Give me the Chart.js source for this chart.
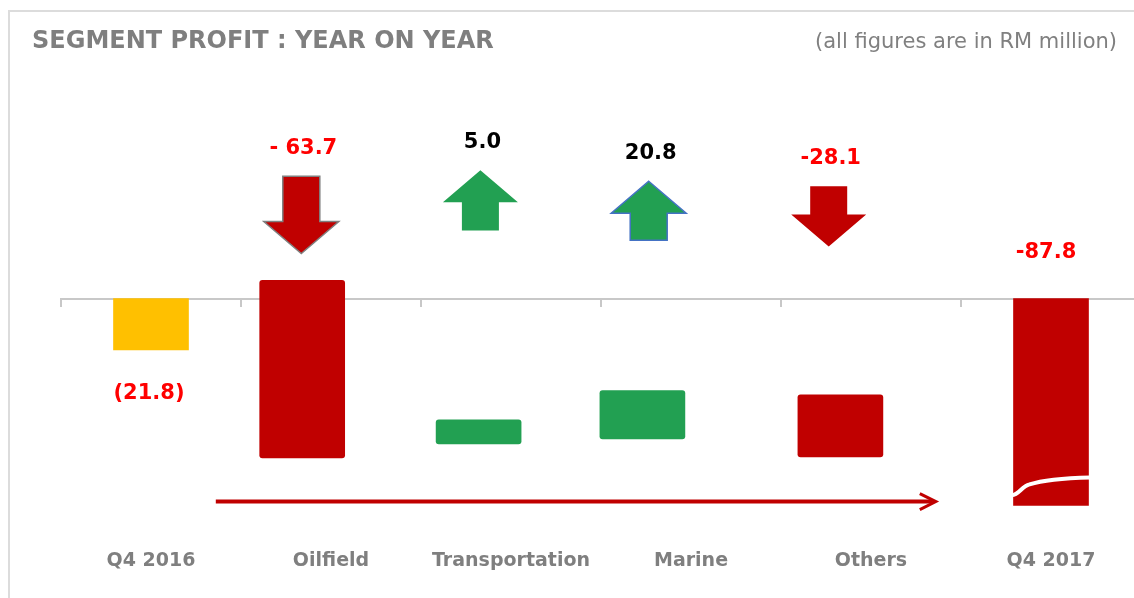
<!DOCTYPE html>
<html>
<head>
<meta charset="utf-8">
<script src="https://cdn.jsdelivr.net/npm/chart.js@4"></script>
<style>
  body { margin: 0; background: #fff; overflow: hidden; width: 1134px; height: 598px; position: relative; }
  #frame { position: absolute; left: 8px; top: 10px; width: 1200px; height: 700px; border-top: 2px solid #dcdcdc; border-left: 2px solid #dcdcdc; }
  #title { position: absolute; left: 32px; top: 28px; font: bold 24px "DejaVu Sans"; line-height: 24px; color: #7f7f7f; white-space: nowrap; }
  #note { position: absolute; right: 17px; top: 31px; font: 21px "DejaVu Sans"; line-height: 21px; color: #808080; white-space: nowrap; }
  #wrap { position: absolute; left: 0; top: 0; width: 1150px; height: 598px; }
</style>
</head>
<body>
<div id="frame"></div>
<div id="wrap"><canvas id="profit-chart"></canvas></div>
<div id="title">SEGMENT PROFIT : YEAR ON YEAR</div>
<div id="note">(all figures are in RM million)</div>
<script>
const categories = ['Q4 2016', 'Oilfield', 'Transportation', 'Marine', 'Others', 'Q4 2017'];
const openingProfit = -21.8;
const closingProfit = -87.8;
const segmentChange = [-63.7, 5.0, 20.8, -28.1];
const segmentText = ['- 63.7', '5.0', '20.8', '-28.1'];
// floating bars as drawn on the slide (not to scale)
const segmentBarTop = [7.7, -51.5, -39.1, -40.9];
const segmentBarBottom = [-67.7, -61.7, -59.6, -67.2];

// layout bits
const barShift = [-0.16, -0.18, -0.27, -0.17];
const arrowShift = [-0.165, -0.17, -0.235, -0.235];
const arrowTop = [51.9, 54.5, 49.8, 47.7];
const arrowBottom = [19.1, 28.9, 24.7, 22.1];
const arrowEdge = ['#7f7f7f', null, '#4472c4', null];

const RED = '#c00000';
const GREEN = '#22a052';
const YELLOW = '#ffc000';

Chart.defaults.font.family = 'DejaVu Sans';

function drawArrow(ctx, cx, yTop, yBot, up, fill, edge) {
  const shaft = 37, head = 75, headLen = 32;
  ctx.beginPath();
  if (up) {
    ctx.moveTo(cx, yTop);
    ctx.lineTo(cx + head / 2, yTop + headLen);
    ctx.lineTo(cx + shaft / 2, yTop + headLen);
    ctx.lineTo(cx + shaft / 2, yBot);
    ctx.lineTo(cx - shaft / 2, yBot);
    ctx.lineTo(cx - shaft / 2, yTop + headLen);
    ctx.lineTo(cx - head / 2, yTop + headLen);
  } else {
    ctx.moveTo(cx - shaft / 2, yTop);
    ctx.lineTo(cx + shaft / 2, yTop);
    ctx.lineTo(cx + shaft / 2, yBot - headLen);
    ctx.lineTo(cx + head / 2, yBot - headLen);
    ctx.lineTo(cx, yBot);
    ctx.lineTo(cx - head / 2, yBot - headLen);
    ctx.lineTo(cx - shaft / 2, yBot - headLen);
  }
  ctx.closePath();
  ctx.fillStyle = fill;
  ctx.fill();
  if (edge) {
    ctx.strokeStyle = edge;
    ctx.lineWidth = 1.5;
    ctx.stroke();
  }
}

const decor = {
  id: 'decor',
  afterDatasetsDraw(chart) {
    const ctx = chart.ctx;
    const xb = chart.scales.xb;
    const y = chart.scales.y;
    ctx.save();
    ctx.textAlign = 'center';
    ctx.textBaseline = 'middle';
    ctx.font = 'bold 21px "DejaVu Sans"';

    segmentChange.forEach((v, i) => {
      const cx = xb.getPixelForValue(i + 1 + arrowShift[i]);
      const top = y.getPixelForValue(arrowTop[i]);
      const bot = y.getPixelForValue(arrowBottom[i]);
      drawArrow(ctx, cx, top, bot, v > 0, v > 0 ? GREEN : RED, arrowEdge[i]);
      ctx.fillStyle = v < 0 ? '#ff0000' : '#000000';
      ctx.fillText(segmentText[i], cx + 2, top - 28);
    });

    // opening / closing labels
    const totals = chart.getDatasetMeta(0).data;
    const first = totals[0];
    const last = totals[1];
    ctx.fillStyle = '#ff0000';
    ctx.fillText('(' + Math.abs(openingProfit).toFixed(1) + ')', first.x - 2, Math.max(first.y, first.base) + 44);
    ctx.fillText(closingProfit.toFixed(1), last.x - 5, Math.min(last.y, last.base) - 46);

    // break mark on the closing bar
    const left = last.x - last.width / 2;
    const right = last.x + last.width / 2;
    const bot = Math.max(last.y, last.base);
    ctx.beginPath();
    ctx.moveTo(left - 2, bot - 10);
    ctx.bezierCurveTo(left + 6, bot - 11, left + 8, bot - 19, left + 16, bot - 21);
    ctx.quadraticCurveTo(left + 34, bot - 27, right + 2, bot - 28);
    ctx.strokeStyle = '#ffffff';
    ctx.lineWidth = 4;
    ctx.stroke();

    // trend arrow along the bottom
    const x1 = xb.getPixelForValue(0.36);
    const x2 = xb.getPixelForValue(4.36);
    const ty = y.getPixelForValue(-86.2);
    ctx.beginPath();
    ctx.moveTo(x1, ty);
    ctx.lineTo(x2 - 3, ty);
    ctx.strokeStyle = RED;
    ctx.lineWidth = 4;
    ctx.stroke();
    ctx.beginPath();
    ctx.moveTo(x2 - 16, ty - 8);
    ctx.lineTo(x2, ty);
    ctx.lineTo(x2 - 16, ty + 8);
    ctx.lineWidth = 3;
    ctx.stroke();
    ctx.restore();
  }
};

const ctx = document.getElementById('profit-chart').getContext('2d');
new Chart(ctx, {
  type: 'bar',
  data: {
    labels: categories,
    datasets: [
      {
        label: 'Total',
        xAxisID: 'xb',
        data: [
          { x: 0, y: [0, openingProfit] },
          { x: categories.length - 1, y: [0, closingProfit] }
        ],
        backgroundColor: [YELLOW, RED],
        barThickness: 75,
        grouped: false,
        borderSkipped: false
      },
      {
        label: 'Change',
        xAxisID: 'xb',
        data: segmentChange.map((v, i) => ({ x: i + 1 + barShift[i], y: [segmentBarTop[i], segmentBarBottom[i]] })),
        backgroundColor: segmentChange.map(v => v > 0 ? GREEN : RED),
        barThickness: 85,
        borderRadius: 3,
        borderSkipped: false,
        grouped: false
      }
    ]
  },
  options: {
    responsive: true,
    maintainAspectRatio: false,
    animation: false,
    layout: { padding: { left: 61, right: 9, top: 70, bottom: 26 } },
    scales: {
      xb: {
        type: 'linear',
        min: -0.5,
        max: categories.length - 0.5,
        offset: false,
        display: false
      },
      x: {
        type: 'category',
        position: 'bottom',
        offset: true,
        grid: { display: false },
        border: { display: false },
        ticks: {
          autoSkip: false,
          maxRotation: 0,
          minRotation: 0,
          padding: 0,
          color: '#7f7f7f',
          font: { size: 19, weight: 'bold' }
        }
      },
      x0: {
        type: 'category',
        position: { y: 0 },
        offset: true,
        grid: { offset: true, drawOnChartArea: false, color: '#c8c8c8', lineWidth: 2, tickLength: 7 },
        border: { color: '#c8c8c8', width: 2 },
        ticks: { display: false }
      },
      y: {
        min: -103,
        max: 97,
        display: false
      }
    },
    plugins: {
      legend: { display: false },
      tooltip: { enabled: false }
    }
  },
  plugins: [decor]
});
</script>
</body>
</html>
